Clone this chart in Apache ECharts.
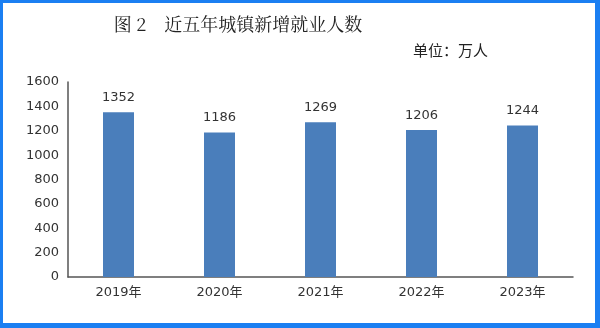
<!DOCTYPE html>
<html><head><meta charset="utf-8">
<script src="https://cdn.jsdelivr.net/npm/echarts@6/dist/echarts.min.js"></script>
<style>
html,body{margin:0;padding:0;background:#fff;}
#c{width:600px;height:328px;box-sizing:border-box;border-style:solid;border-color:#1b7ff2;border-width:3px 5px 5px 3px;}
</style></head>
<body><div id="c"></div>
<script>
const categories = ['2019年','2020年','2021年','2022年','2023年'];
const values = [1352, 1186, 1269, 1206, 1244];
const yTicks = [0,200,400,600,800,1000,1200,1400,1600];

const chart = echarts.init(document.getElementById('c'), null, {renderer:'canvas'});
chart.setOption({
  animation:false,
  backgroundColor:'#fff',
  title:[
    {text:'图 2　近五年城镇新增就业人数', left:230, top:7, textAlign:'center',
     textStyle:{fontFamily:'"Noto Serif CJK SC","Noto Sans CJK SC",serif', fontSize:18, fontWeight:'normal', color:'#222'}},
    {text:'单位：万人', left:405, top:35,
     textStyle:{fontFamily:'"Noto Sans CJK SC",sans-serif', fontSize:15, fontWeight:'normal', color:'#222'}}
  ],
  grid:{left:65, right:22, top:79, bottom:46, containLabel:false},
  xAxis:{type:'category', data:categories,
    axisLine:{lineStyle:{color:'#555', width:1.5}}, axisTick:{show:false},
    axisLabel:{color:'#333', fontSize:13, margin:9, fontFamily:'"DejaVu Sans","Noto Sans CJK SC",sans-serif'}},
  yAxis:{type:'value', min:0, max:1600, interval:200,
    axisLine:{show:true, lineStyle:{color:'#555', width:1.5}}, axisTick:{show:false},
    splitLine:{show:false},
    axisLabel:{color:'#333', fontSize:13, margin:9, fontFamily:'"DejaVu Sans",sans-serif',
      formatter:v=>yTicks.includes(v)?String(v):''}},
  series:[{type:'bar', data:values, barWidth:31,
    itemStyle:{color:'#4a7ebb'},
    label:{show:true, position:'top', distance:8, color:'#333', fontSize:13, fontFamily:'"DejaVu Sans",sans-serif'}}]
});
</script></body></html>
